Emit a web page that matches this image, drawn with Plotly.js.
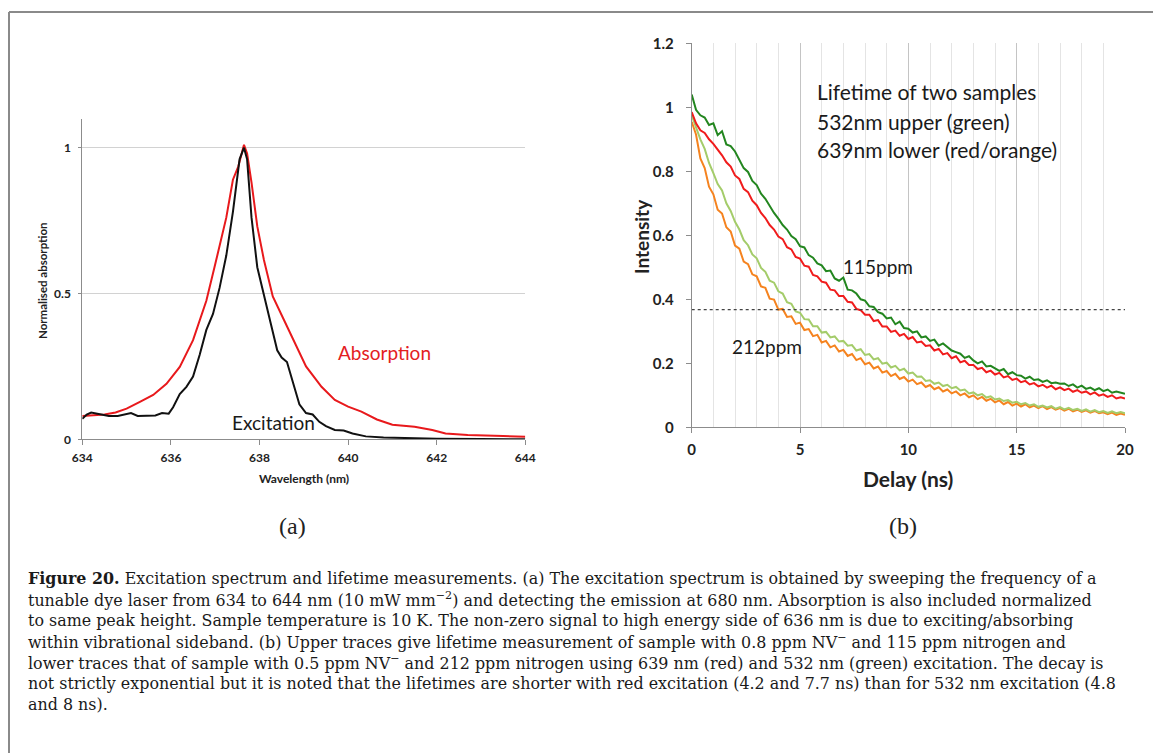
<!DOCTYPE html>
<html>
<head>
<meta charset="utf-8">
<script src="https://cdn.plot.ly/plotly-3.0.1.min.js"></script>
<style>html,body{margin:0;padding:0;background:#fff;}#chart{width:1153px;height:753px;}</style>
</head>
<body>
<div id="chart"></div>
<script>
// ---------- Panel (a): excitation spectrum & absorption ----------
const absWavelength = [634.0,634.25,634.5,634.75,635.0,635.3,635.6,635.9,636.2,636.5,636.8,637.0,637.25,637.4,637.52,637.65,637.72,637.82,637.95,638.1,638.3,638.55,638.75,639.05,639.4,639.7,640.0,640.3,640.65,641.0,641.5,641.9,642.2,642.7,643.5,644.0];
const absorption    = [0.08,0.083,0.085,0.092,0.105,0.128,0.152,0.19,0.248,0.34,0.475,0.6,0.76,0.89,0.935,1.01,0.98,0.88,0.73,0.615,0.49,0.41,0.345,0.25,0.18,0.135,0.112,0.095,0.068,0.05,0.043,0.032,0.02,0.015,0.011,0.009];
const excWavelength = [634.0,634.1,634.2,634.4,634.6,634.8,635.0,635.1,635.25,635.45,635.65,635.8,635.95,636.05,636.2,636.35,636.5,636.65,636.8,636.95,637.1,637.25,637.4,637.55,637.65,637.72,637.82,637.95,638.1,638.25,638.4,638.5,638.62,638.75,638.9,639.05,639.2,639.35,639.5,639.7,639.9,640.1,640.4,640.8,641.5,642.0,643.0,644.0];
const excitation    = [0.07,0.085,0.092,0.086,0.08,0.08,0.087,0.09,0.08,0.082,0.082,0.09,0.088,0.11,0.155,0.18,0.215,0.29,0.375,0.43,0.52,0.63,0.78,0.96,1.0,0.96,0.76,0.59,0.49,0.4,0.305,0.28,0.265,0.2,0.12,0.09,0.085,0.06,0.045,0.032,0.03,0.02,0.01,0.006,0.003,0.002,0.001,0.0];
const wlTicks = [634,636,638,640,642,644];
const absYTicks = [0,0.5,1];
const absYTickText = ['0','0.5','1'];

// ---------- Panel (b): lifetime decays ----------
const delay = [0,0.2,0.4,0.6,0.8,1,1.2,1.4,1.6,1.8,2,2.2,2.4,2.6,2.8,3,3.2,3.4,3.6,3.8,4,4.2,4.4,4.6,4.8,5,5.2,5.4,5.6,5.8,6,6.2,6.4,6.6,6.8,7,7.2,7.4,7.6,7.8,8,8.2,8.4,8.6,8.8,9,9.2,9.4,9.6,9.8,10,10.2,10.4,10.6,10.8,11,11.2,11.4,11.6,11.8,12,12.2,12.4,12.6,12.8,13,13.2,13.4,13.6,13.8,14,14.2,14.4,14.6,14.8,15,15.2,15.4,15.6,15.8,16,16.2,16.4,16.6,16.8,17,17.2,17.4,17.6,17.8,18,18.2,18.4,18.6,18.8,19,19.2,19.4,19.6,19.8,20];
const green115 = [1.04,0.992,0.975,0.968,0.945, 0.95,0.913,0.925,0.884,0.879, 0.862,0.838,0.81,0.798,0.77, 0.757,0.73,0.714,0.69,0.67, 0.652,0.632,0.618,0.598,0.588, 0.566,0.562,0.538,0.53,0.512, 0.506,0.488,0.49,0.465,0.458, 0.468,0.43,0.428,0.418,0.4, 0.396,0.378,0.376,0.36,0.355, 0.34,0.343,0.322,0.33,0.31, 0.308,0.296,0.3,0.281,0.284, 0.27,0.274,0.255,0.262,0.25, 0.24,0.235,0.23,0.217,0.222, 0.209,0.2,0.206,0.19,0.192, 0.185,0.176,0.182,0.166,0.172, 0.163,0.161,0.152,0.158,0.148, 0.15,0.142,0.147,0.138,0.14, 0.136,0.137,0.129,0.134,0.124, 0.13,0.12,0.124,0.116,0.122, 0.113,0.118,0.108,0.112,0.109, 0.105];
const red115 = [0.985,0.95,0.928,0.92,0.9, 0.886,0.868,0.85,0.828,0.815, 0.787,0.776,0.745,0.735,0.708, 0.694,0.67,0.654,0.632,0.618, 0.596,0.588,0.563,0.556,0.532, 0.527,0.505,0.502,0.476,0.472, 0.455,0.452,0.43,0.428,0.41, 0.41,0.392,0.39,0.37,0.366, 0.352,0.352,0.332,0.335,0.315, 0.315,0.298,0.302,0.286,0.292, 0.276,0.282,0.265,0.268,0.254, 0.256,0.24,0.245,0.228,0.232, 0.216,0.222,0.203,0.208,0.195, 0.195,0.182,0.186,0.172,0.177, 0.165,0.17,0.156,0.16,0.148, 0.152,0.141,0.145,0.134,0.138, 0.128,0.133,0.124,0.13,0.119, 0.125,0.116,0.121,0.111,0.116, 0.108,0.112,0.103,0.109,0.099, 0.103,0.095,0.1,0.09,0.094, 0.09];
const lightGreen212 = [0.975,0.935,0.9,0.87,0.826, 0.794,0.76,0.74,0.7,0.676, 0.642,0.618,0.585,0.569,0.54, 0.528,0.498,0.486,0.458,0.452, 0.425,0.418,0.391,0.386,0.362, 0.358,0.338,0.337,0.316,0.316, 0.296,0.298,0.281,0.284,0.268, 0.27,0.255,0.257,0.24,0.244, 0.226,0.229,0.212,0.216,0.199, 0.202,0.187,0.192,0.178,0.183, 0.168,0.171,0.158,0.159,0.145, 0.147,0.136,0.14,0.129,0.133, 0.122,0.126,0.115,0.118,0.106, 0.109,0.1,0.104,0.093,0.097, 0.087,0.09,0.082,0.085,0.077, 0.08,0.072,0.076,0.068,0.072, 0.064,0.068,0.062,0.066,0.058, 0.063,0.056,0.061,0.054,0.058, 0.051,0.056,0.049,0.054,0.047, 0.051,0.045,0.05,0.044,0.048, 0.044];
const orange212 = [0.955,0.915,0.84,0.81,0.752, 0.728,0.68,0.668,0.625,0.612, 0.568,0.558,0.518,0.51,0.478, 0.472,0.44,0.436,0.402,0.399, 0.368,0.37,0.345,0.347,0.323, 0.327,0.304,0.307,0.285,0.289, 0.265,0.27,0.25,0.256,0.237, 0.242,0.223,0.229,0.21,0.216, 0.197,0.202,0.184,0.19,0.171, 0.176,0.16,0.167,0.151,0.157, 0.143,0.149,0.135,0.14,0.126, 0.132,0.119,0.125,0.112,0.118, 0.106,0.112,0.1,0.106,0.094, 0.1,0.088,0.095,0.083,0.089, 0.078,0.084,0.072,0.079,0.068, 0.074,0.065,0.072,0.062,0.068, 0.06,0.066,0.057,0.063,0.055, 0.06,0.052,0.058,0.05,0.055, 0.048,0.053,0.046,0.051,0.044, 0.047,0.041,0.046,0.039,0.043, 0.039];
const eLevel = 0.368;            // 1/e reference level
const delaySpan = [0, 20];
const delayTicks = [0,5,10,15,20];
const intYTicks = [0,0.2,0.4,0.6,0.8,1,1.2];
const intYTickText = ['0','0.2','0.4','0.6','0.8','1','1.2'];

const captionLines = [
  '<b>Figure 20.</b> Excitation spectrum and lifetime measurements. (a) The excitation spectrum is obtained by sweeping the frequency of a',
  'tunable dye laser from 634 to 644 nm (10 mW mm<sup>−2</sup>) and detecting the emission at 680 nm. Absorption is also included normalized',
  'to same peak height. Sample temperature is 10 K. The non-zero signal to high energy side of 636 nm is due to exciting/absorbing',
  'within vibrational sideband. (b) Upper traces give lifetime measurement of sample with 0.8 ppm NV<sup>−</sup> and 115 ppm nitrogen and',
  'lower traces that of sample with 0.5 ppm NV<sup>−</sup> and 212 ppm nitrogen using 639 nm (red) and 532 nm (green) excitation. The decay is',
  'not strictly exponential but it is noted that the lifetimes are shorter with red excitation (4.2 and 7.7 ns) than for 532 nm excitation (4.8',
  'and 8 ns).'
];

// ---------- geometry helpers (pixel -> paper) ----------
const W = 1153, H = 753;
const px = v => v / W;
const py = v => 1 - v / H;

const SANS = 'Lato, "Open Sans", sans-serif';
const SERIF = '"Liberation Serif", "DejaVu Serif", serif';
const CAPTION = '"DejaVu Serif", "Liberation Serif", serif';
const AX = '#8c8c8c';

const traces = [
  {x: absWavelength, y: absorption, type: 'scatter', mode: 'lines', line: {color: '#e8191c', width: 2}, xaxis: 'x', yaxis: 'y'},
  {x: excWavelength, y: excitation, type: 'scatter', mode: 'lines', line: {color: '#111111', width: 2}, xaxis: 'x', yaxis: 'y'},
  {x: delay, y: orange212, type: 'scatter', mode: 'lines', line: {color: '#f5831f', width: 2}, xaxis: 'x2', yaxis: 'y2'},
  {x: delay, y: lightGreen212, type: 'scatter', mode: 'lines', line: {color: '#a4cc6a', width: 2}, xaxis: 'x2', yaxis: 'y2'},
  {x: delay, y: red115, type: 'scatter', mode: 'lines', line: {color: '#f01c1c', width: 2}, xaxis: 'x2', yaxis: 'y2'},
  {x: delay, y: green115, type: 'scatter', mode: 'lines', line: {color: '#23861f', width: 2}, xaxis: 'x2', yaxis: 'y2'},
  {x: delaySpan, y: [eLevel, eLevel], type: 'scatter', mode: 'lines', line: {color: '#444', width: 1.3, dash: 'dot'}, xaxis: 'x2', yaxis: 'y2'}
];

const annotations = [
  // panel (a) labels
  {xref: 'x', yref: 'y', x: 639.72, y: 0.296, text: 'Absorption', showarrow: false, xanchor: 'left', yanchor: 'middle', font: {family: SANS, size: 19, color: '#e3201f'}},
  {xref: 'x', yref: 'y', x: 637.33, y: 0.057, text: 'Excitation', showarrow: false, xanchor: 'left', yanchor: 'middle', font: {family: SANS, size: 19, color: '#1a1a1a'}},
  {xref: 'paper', yref: 'paper', x: px(42), y: py(280), text: 'Normalised absorption', textangle: -90, showarrow: false, xanchor: 'center', yanchor: 'middle', font: {family: SANS, size: 11.5, color: '#222', weight: 'bold'}},
  {xref: 'paper', yref: 'paper', x: px(304), y: py(478), text: 'Wavelength (nm)', showarrow: false, xanchor: 'center', yanchor: 'middle', font: {family: SANS, size: 12, color: '#222', weight: 'bold'}},
  // panel (b) labels
  {xref: 'x2', yref: 'y2', x: 5.68, y: 1.048, text: 'Lifetime of two samples', showarrow: false, xanchor: 'left', yanchor: 'middle', font: {family: SANS, size: 21, color: '#1a1a1a'}},
  {xref: 'x2', yref: 'y2', x: 5.68, y: 0.957, text: '532nm upper (green)', showarrow: false, xanchor: 'left', yanchor: 'middle', font: {family: SANS, size: 21, color: '#1a1a1a'}},
  {xref: 'x2', yref: 'y2', x: 5.68, y: 0.868, text: '639nm lower (red/orange)', showarrow: false, xanchor: 'left', yanchor: 'middle', font: {family: SANS, size: 21, color: '#1a1a1a'}},
  {xref: 'x2', yref: 'y2', x: 6.87, y: 0.501, text: '115ppm', showarrow: false, xanchor: 'left', yanchor: 'middle', font: {family: SANS, size: 19, color: '#1a1a1a'}},
  {xref: 'x2', yref: 'y2', x: 1.75, y: 0.254, text: '212ppm', showarrow: false, xanchor: 'left', yanchor: 'middle', font: {family: SANS, size: 19, color: '#1a1a1a'}},
  {xref: 'paper', yref: 'paper', x: px(642), y: py(237), text: 'Intensity', textangle: -90, showarrow: false, xanchor: 'center', yanchor: 'middle', font: {family: SANS, size: 19, color: '#222', weight: 'bold'}},
  {xref: 'paper', yref: 'paper', x: px(908), y: py(478), text: 'Delay (ns)', showarrow: false, xanchor: 'center', yanchor: 'middle', font: {family: SANS, size: 21, color: '#222', weight: 'bold'}},
  // sub-figure letters
  {xref: 'paper', yref: 'paper', x: px(292), y: py(526), text: '(a)', showarrow: false, xanchor: 'center', yanchor: 'middle', font: {family: SERIF, size: 24, color: '#222'}},
  {xref: 'paper', yref: 'paper', x: px(903), y: py(526), text: '(b)', showarrow: false, xanchor: 'center', yanchor: 'middle', font: {family: SERIF, size: 24, color: '#222'}}
];

captionLines.forEach((line, i) => {
  annotations.push({xref: 'paper', yref: 'paper', x: px(26), y: py(578 + i * 21), text: line, showarrow: false,
    xanchor: 'left', yanchor: 'middle', align: 'left', font: {family: CAPTION, size: 15.9, color: '#1a1a1a'}});
});

const shapes = [
  // figure frame (top + left rules)
  {type: 'line', xref: 'paper', yref: 'paper', x0: px(9), x1: 1, y0: py(12), y1: py(12), line: {color: '#8a8a8a', width: 2}},
  {type: 'line', xref: 'paper', yref: 'paper', x0: px(9), x1: px(9), y0: py(12), y1: 0, line: {color: '#8a8a8a', width: 2}}
];

const tickFontA = {family: SANS, size: 12, color: '#222', weight: 'bold'};
const tickFontB = {family: SANS, size: 15, color: '#222', weight: 'bold'};

const layout = {
  width: W, height: H,
  margin: {l: 0, r: 0, t: 0, b: 0},
  paper_bgcolor: '#ffffff', plot_bgcolor: 'rgba(0,0,0,0)',
  showlegend: false,
  font: {family: SANS, color: '#222'},
  xaxis: {
    domain: [px(82.3), px(525.3)], anchor: 'y', range: [634, 644],
    tickvals: wlTicks, ticktext: wlTicks.map(String), tickfont: tickFontA,
    showgrid: false, zeroline: false, showline: true, linecolor: AX, linewidth: 1,
    ticks: 'outside', ticklen: 5, tickcolor: AX, ticklabelstandoff: 2
  },
  yaxis: {
    domain: [py(439.3), py(118.5)], anchor: 'x', range: [0, 1.1],
    tickvals: absYTicks, ticktext: absYTickText, tickfont: tickFontA,
    showgrid: true, gridcolor: '#d2d2d2', gridwidth: 1, zeroline: false,
    showline: true, linecolor: AX, linewidth: 1,
    ticks: 'outside', ticklen: 3, tickcolor: AX, ticklabelstandoff: 5
  },
  xaxis2: {
    domain: [px(691.7), px(1125)], anchor: 'y2', range: [0, 20],
    tickvals: delayTicks, ticktext: delayTicks.map(String), tickfont: tickFontB,
    showgrid: true, gridcolor: '#c4c4c4', gridwidth: 1, zeroline: false,
    minor: {dtick: 1, tick0: 0, showgrid: true, gridcolor: '#e4e4e4', gridwidth: 1, ticks: ''},
    showline: true, linecolor: AX, linewidth: 1,
    ticks: 'outside', ticklen: 5, tickcolor: AX, ticklabelstandoff: 4
  },
  yaxis2: {
    domain: [py(427.3), py(43.3)], anchor: 'x2', range: [0, 1.2],
    tickvals: intYTicks, ticktext: intYTickText, tickfont: tickFontB,
    showgrid: false, zeroline: false, showline: true, linecolor: AX, linewidth: 1,
    ticks: 'outside', ticklen: 5, tickcolor: AX, ticklabelstandoff: 9
  },
  annotations: annotations,
  shapes: shapes
};

Plotly.newPlot('chart', traces, layout, {staticPlot: true, displayModeBar: false});
</script>
</body>
</html>
